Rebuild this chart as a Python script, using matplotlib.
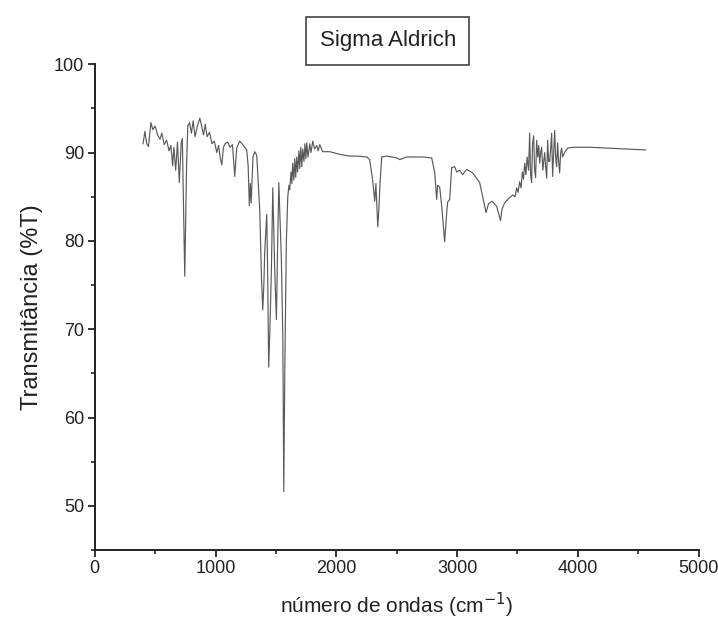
import matplotlib
matplotlib.use("Agg")
import matplotlib.pyplot as pl
from matplotlib.ticker import MultipleLocator

# spectrum (wavenumber in cm-1, transmittance in %T)
wavenumber = [
	400, 415, 430, 445, 465, 480, 500, 520, 540, 555, 575, 595, 615, 630, 645, 655,
	670, 685, 700, 715, 725, 735, 745, 752, 760, 770, 785, 800, 815, 830, 850, 870,
	885, 900, 915, 930, 950, 970, 990, 1010, 1025, 1040, 1052, 1065, 1080, 1100, 1120,
	1140, 1159, 1175, 1200, 1225, 1258, 1270, 1280, 1288, 1295, 1310, 1324, 1341, 1366,
	1380, 1391, 1400, 1407, 1424, 1432, 1440, 1450, 1462, 1474, 1490, 1504, 1516, 1524,
	1535, 1545, 1557, 1565, 1573, 1586, 1598, 1608, 1614, 1625, 1632, 1639, 1648, 1656,
	1664, 1672, 1680, 1690, 1697, 1706, 1714, 1722, 1732, 1740, 1748, 1755, 1765, 1780,
	1790, 1805, 1820, 1838, 1850, 1863, 1887, 1945, 2028, 2111, 2169, 2252, 2276, 2301,
	2318, 2328, 2343, 2352, 2362, 2376, 2417, 2500, 2525, 2583, 2715, 2790, 2815, 2831,
	2839, 2856, 2873, 2897, 2914, 2922, 2939, 2955, 2980, 2997, 3021, 3046, 3079, 3129,
	3187, 3212, 3240, 3260, 3290, 3328, 3360, 3372, 3394, 3435, 3460, 3480, 3493, 3505,
	3518, 3530, 3540, 3550, 3560, 3570, 3580, 3592, 3601, 3609, 3617, 3625, 3634, 3642,
	3650, 3659, 3668, 3676, 3684, 3692, 3700, 3710, 3725, 3733, 3742, 3750, 3758, 3767,
	3775, 3783, 3791, 3800, 3808, 3816, 3824, 3833, 3841, 3849, 3858, 3866, 3874, 3890,
	3915, 3957, 4100, 4250, 4400, 4560,
]
transmittance = [
	91.0, 92.4, 91.0, 90.7, 93.4, 92.6, 93.0, 92.0, 91.5, 92.2, 90.9, 91.4, 90.2, 90.8, 88.5, 90.6,
	88.0, 91.2, 86.6, 91.0, 91.6, 84.0, 76.0, 82.0, 88.5, 93.0, 93.4, 92.2, 93.6, 91.8, 93.0, 93.9,
	93.0, 92.0, 93.2, 91.8, 92.3, 91.0, 91.3, 90.0, 90.8, 89.3, 88.6, 90.6, 91.0, 91.2, 90.6,
	90.9, 87.3, 90.5, 91.3, 90.9, 90.3, 88.5, 84.0, 86.5, 84.3, 89.5, 90.1, 89.7, 83.5,
	76.0, 72.2, 75.0, 78.7, 83.0, 76.0, 65.7, 70.0, 76.4, 86.0, 76.7, 71.1, 81.0, 86.6,
	82.0, 77.9, 69.2, 51.6, 64.7, 79.8, 85.0, 86.3, 85.8, 87.8, 86.5, 88.8, 86.9, 89.3,
	87.2, 89.5, 87.8, 90.2, 88.2, 90.6, 88.4, 90.4, 89.0, 91.0, 89.3, 91.1, 89.5, 91.0,
	90.0, 91.3, 90.4, 90.8, 90.2, 90.9, 90.1, 90.1, 89.8, 89.6, 89.6, 89.5, 89.2, 86.9,
	84.5, 86.5, 81.6, 83.5, 86.5, 89.5, 89.6, 89.4, 89.2, 89.5, 89.5, 89.4, 87.7, 84.7,
	86.3, 86.1, 83.9, 79.9, 83.2, 84.4, 84.7, 88.3, 88.4, 87.8, 88.0, 87.5, 88.1, 87.7,
	86.6, 85.0, 83.2, 84.2, 84.5, 83.9, 82.3, 83.6, 84.3, 84.9, 85.2, 85.0, 86.0, 85.5,
	86.7, 86.0, 87.8, 87.0, 88.8, 87.5, 89.5, 88.0, 92.2, 87.5, 86.6, 91.0, 91.9, 88.0,
	87.2, 91.4, 89.5, 90.8, 88.8, 90.0, 90.6, 88.0, 90.0, 88.5, 87.1, 91.4, 89.0, 89.0,
	90.5, 92.2, 87.3, 90.0, 92.5, 89.5, 88.4, 91.1, 89.0, 87.7, 90.0, 90.5, 89.5, 90.0,
	90.5, 90.6, 90.6, 90.5, 90.4, 90.3,
]

pl.rcParams["font.family"] = ["Liberation Sans", "DejaVu Sans"]

figure = pl.figure(figsize=(7.18, 6.30), dpi=100)
axes = figure.add_axes([0.132, 0.127, 0.841, 0.771])

axes.plot(wavenumber, transmittance, color="#5a5a5a", linewidth=0.85)

axes.set_xlim(0, 5000)
axes.set_ylim(45, 100)
axes.xaxis.set_major_locator(MultipleLocator(1000))
axes.xaxis.set_minor_locator(MultipleLocator(500))
axes.yaxis.set_major_locator(MultipleLocator(10))
axes.yaxis.set_minor_locator(MultipleLocator(5))

for side in ["top", "right"]:
	axes.spines[side].set_visible(False)
for side in ["left", "bottom"]:
	axes.spines[side].set_linewidth(1.4)
	axes.spines[side].set_color("#222222")

axes.tick_params(which="major", direction="out", length=5, width=1.3, labelsize=13,
					colors="#222222", pad=2.5)
axes.tick_params(which="minor", direction="out", length=3, width=1.2, colors="#222222")

axes.set_xlabel("número de ondas (cm$^{-1}$)", fontsize=15, labelpad=10, color="#222222")
axes.set_ylabel("Transmitância (%T)", fontsize=17, labelpad=8, color="#222222")

figure.text(0.540, 0.935, "Sigma Aldrich", ha="center", va="center", fontsize=16,
			color="#222222",
			bbox=dict(boxstyle="square,pad=0.6", facecolor="white", edgecolor="#444444",
						linewidth=1.2))

figure.savefig("out.png", dpi=100)
pl.close(figure)
